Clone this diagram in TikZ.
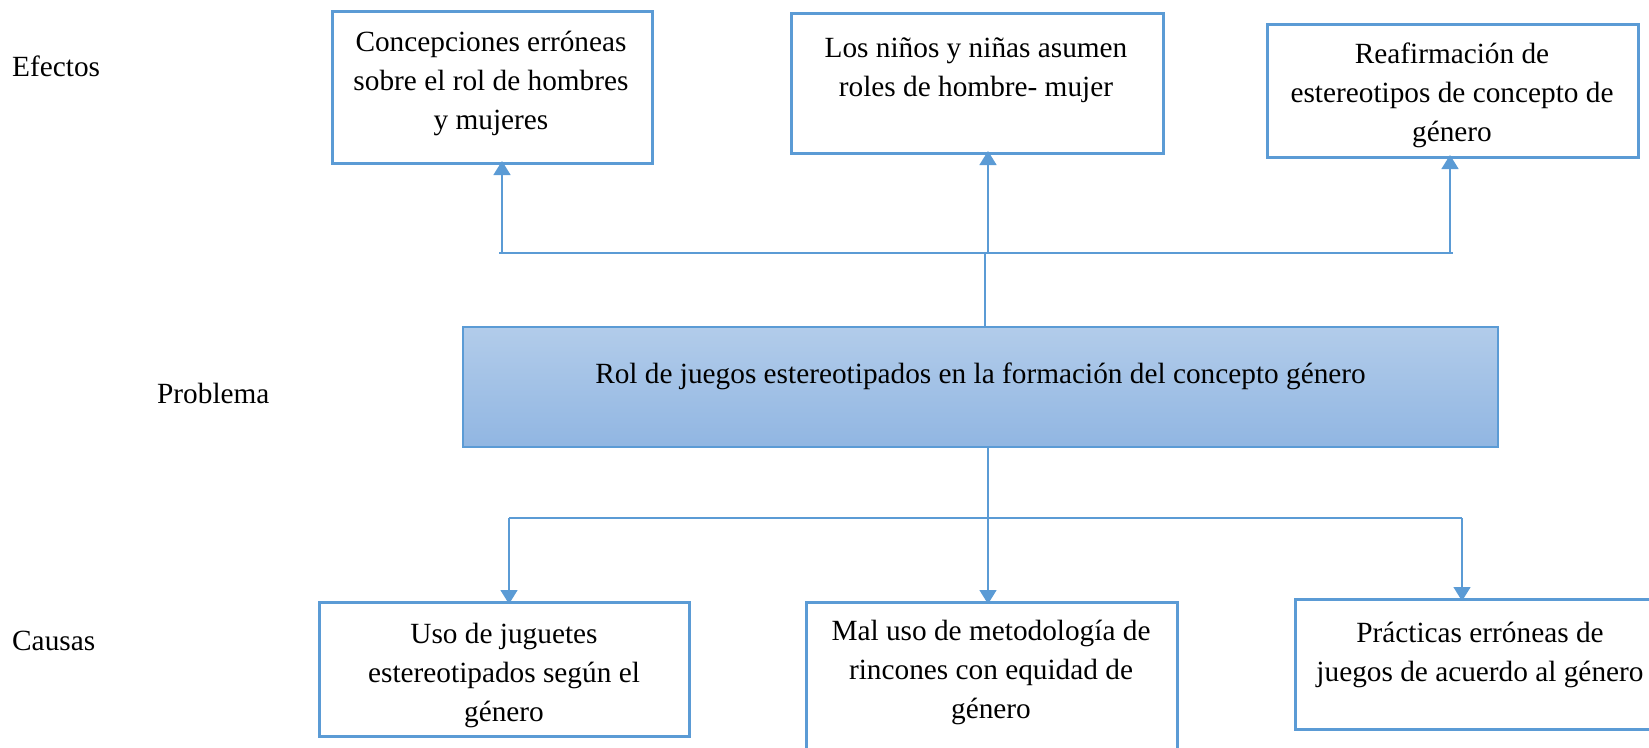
\documentclass[tikz,border=0pt]{standalone}
\usepackage{fontspec}
\setmainfont{Liberation Serif}
\usetikzlibrary{arrows.meta}
\definecolor{lineblue}{RGB}{91,155,213}
\definecolor{ptop}{RGB}{178,204,234}
\definecolor{pbot}{RGB}{145,182,226}
\tikzset{
  ebox/.style={draw=lineblue, line width=3pt, rectangle, inner sep=0pt, outer sep=0pt},
  pbox/.style={draw=lineblue, line width=1.5pt, rectangle, inner sep=0pt, outer sep=0pt, top color=ptop, bottom color=pbot},
  conn/.style={draw=lineblue, line width=1.5pt},
  arr/.style={conn, -{Triangle[width=17pt,length=14pt]}, shorten >=-2pt},
  txt/.style={font=\fontsize{29.3}{39}\selectfont, align=center, inner sep=0pt, anchor=north},
  lbl/.style={font=\fontsize{29.3}{39}\selectfont, inner sep=0pt, anchor=base west}
}
\begin{document}
\begin{tikzpicture}[x=1pt,y=-1pt]
\clip (0,0) rectangle (1649,747);
% labels
\node[lbl] (lef) at (12,76) {Efectos};
\node[lbl] (lpr) at (157,403) {Problema};
\node[lbl] (lca) at (12,650) {Causas};
% effect boxes
\node[ebox, minimum width=320pt, minimum height=152pt] (e1) at (492,87) {};
\node[txt] (e1t) at (491,51-27.3) {\strut Concepciones erróneas\\sobre el rol de hombres\\y mujeres};
\node[ebox, minimum width=372pt, minimum height=140pt] (e2) at (977,83) {};
\node[txt] (e2t) at (976,57-27.3) {\strut Los niños y niñas asumen\\roles de hombre- mujer};
\node[ebox, minimum width=371pt, minimum height=133pt] (e3) at (1452.5,90.5) {};
\node[txt] (e3t) at (1452,63-27.3) {\strut Reafirmación de\\estereotipos de concepto de\\género};
% problem
\node[pbox, minimum width=1035pt, minimum height=120pt] (p) at (980.5,387) {};
\node[txt] (pt) at (980.5,383-27.3) {\strut Rol de juegos estereotipados en la formación del concepto género};
% cause boxes
\node[ebox, minimum width=370pt, minimum height=134pt] (c1) at (504,669) {};
\node[txt] (c1t) at (504,643-27.3) {\strut Uso de juguetes\\estereotipados según el\\género};
\node[ebox, minimum width=371pt, minimum height=198pt] (c2) at (991.5,701) {};
\node[txt] (c2t) at (991,640-27.3) {\strut Mal uso de metodología de\\rincones con equidad de\\género};
\node[ebox, minimum width=370pt, minimum height=130pt] (c3) at (1480,664) {};
\node[txt] (c3t) at (1480,642-27.3) {\strut Prácticas erróneas de\\juegos de acuerdo al género};
% top connectors
\coordinate (jt) at (985,253);
\coordinate (tl) at (499,253);
\coordinate (tr) at (1453,253);
\coordinate (a1) at (502,253);
\coordinate (a2) at (988,253);
\coordinate (a3) at (1450,253);
\draw[conn] (p.north -| jt) -- (jt);
\draw[conn] (tl) -- (tr);
\draw[arr] (a1) -- (a1 |- e1.south);
\draw[arr] (a2) -- (a2 |- e2.south);
\draw[arr] (a3) -- (a3 |- e3.south);
% bottom connectors
\coordinate (bl) at (509,518);
\coordinate (br) at (1462,518);
\coordinate (b2) at (988,518);
\draw[conn] (bl) -- (br);
\draw[arr] (b2 |- p.south) -- (b2 |- c2.north);
\draw[arr] (bl) -- (bl |- c1.north);
\draw[arr] (br) -- (br |- c3.north);
\end{tikzpicture}
\end{document}
